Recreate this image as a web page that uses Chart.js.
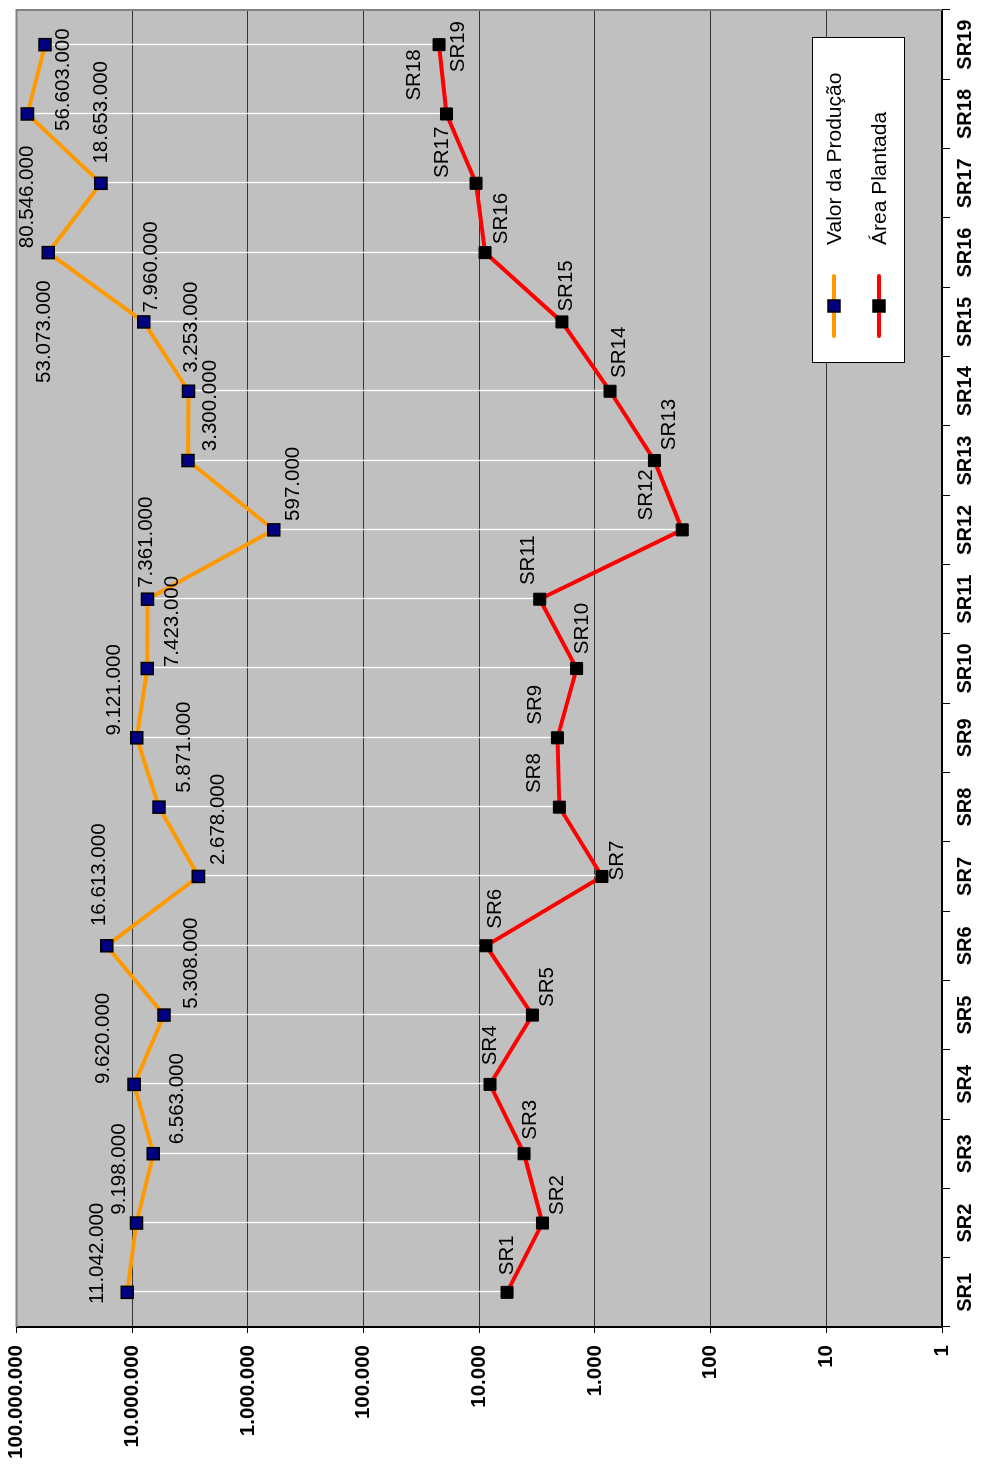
<!DOCTYPE html>
<html lang="pt-BR">
<head>
<meta charset="utf-8">
<title>Valor da Produção e Área Plantada por SR</title>
<script src="https://cdn.jsdelivr.net/npm/chart.js@4.4.1/dist/chart.umd.min.js"></script>
<style>
  html, body { margin: 0; padding: 0; background: #fff; overflow: hidden; }
  body { width: 983px; height: 1465px; position: relative; }
  /* the chart is laid out landscape and turned a quarter turn onto the portrait page */
  #wrap {
    position: absolute; left: 0; top: 0;
    width: 1465px; height: 983px;
    transform-origin: 0 0;
    transform: translate(0, 1465px) rotate(-90deg);
  }
  canvas { display: block; }
</style>
</head>
<body>
<div id="wrap"><canvas id="chart" width="1465" height="983"></canvas></div>
<script>
// ---- data ----
const categories = ['SR1','SR2','SR3','SR4','SR5','SR6','SR7','SR8','SR9','SR10',
                    'SR11','SR12','SR13','SR14','SR15','SR16','SR17','SR18','SR19'];
const valorProducao = [11042000, 9198000, 6563000, 9620000, 5308000, 16613000, 2678000,
                       5871000, 9121000, 7423000, 7361000, 597000, 3300000, 3253000,
                       7960000, 53073000, 18653000, 80546000, 56603000];
const areaPlantada = [5750, 2840, 4100, 8070, 3470, 8740, 870, 2030, 2110, 1440,
                      3000, 176, 306, 740, 1930, 8910, 10660, 19190, 22250];
const valueTicks = [1, 10, 100, 1000, 10000, 100000, 1000000, 10000000, 100000000];
const seriesNames = ['Valor da Produção', 'Área Plantada'];

// ---- label placement (pixel offsets from each marker) ----
const valorLabelOffsets = [[39,-30],[54,-17],[55,24],[46,-31],[52,27],[71,-7],[57,20],
                           [60,25],[48,-22],[47,25],[57,-1],[46,20],[55,22],[64,3],
                           [55,8],[-79,-4],[71,0],[-83,0],[-35,18]];
const areaLabelOffsets = [[37,0],[28,15],[34,6],[39,0],[28,15],[37,9],[16,15],
                          [34,-25],[33,-22],[40,6],[39,-11],[35,-36],[36,15],[39,9],
                          [36,4],[34,16],[31,-34],[39,-32],[-2,19]];

const FONT = '"Liberation Sans", Arial, Helvetica, sans-serif';
const fmt = v => String(Math.round(v)).replace(/\B(?=(\d{3})+(?!\d))/g, '.');

Chart.defaults.font.family = FONT;
Chart.defaults.color = '#000';

// grey plot area, frame and white connectors between the two series
const plotFrame = {
  id: 'plotFrame',
  beforeDraw(chart) {
    const { ctx, chartArea: a } = chart;
    ctx.save();
    ctx.fillStyle = '#C0C0C0';
    ctx.fillRect(a.left, a.top, a.right - a.left, a.bottom - a.top);
    ctx.restore();
  },
  beforeDatasetsDraw(chart) {
    const { ctx, chartArea: a, scales: { x, y } } = chart;
    ctx.save();
    ctx.strokeStyle = '#808080';
    ctx.lineWidth = 2;
    ctx.beginPath();
    ctx.moveTo(a.left, a.top);
    ctx.lineTo(a.right, a.top);
    ctx.lineTo(a.right, a.bottom);
    ctx.stroke();
    ctx.strokeStyle = '#FFFFFF';
    ctx.lineWidth = 1.3;
    categories.forEach((c, i) => {
      const px = Math.round(x.getPixelForValue(i)) + 0.5;
      ctx.beginPath();
      ctx.moveTo(px, y.getPixelForValue(valorProducao[i]));
      ctx.lineTo(px, y.getPixelForValue(areaPlantada[i]));
      ctx.stroke();
    });
    ctx.restore();
  }
};

// value labels on the production series, region names on the area series
const pointLabels = {
  id: 'pointLabels',
  afterDatasetsDraw(chart) {
    const ctx = chart.ctx;
    ctx.save();
    ctx.font = '20.5px ' + FONT;
    ctx.fillStyle = '#000';
    ctx.textAlign = 'center';
    ctx.textBaseline = 'middle';
    chart.getDatasetMeta(0).data.forEach((pt, i) => {
      const [du, dv] = valorLabelOffsets[i];
      ctx.fillText(fmt(valorProducao[i]), pt.x + du, pt.y + dv);
    });
    chart.getDatasetMeta(1).data.forEach((pt, i) => {
      const [du, dv] = areaLabelOffsets[i];
      ctx.fillText(categories[i], pt.x + du, pt.y + dv);
    });
    ctx.restore();
  }
};

// boxed legend inside the plot area
const boxLegend = {
  id: 'boxLegend',
  afterDraw(chart) {
    const ctx = chart.ctx;
    const box = { x: 1102, y: 812, w: 325, h: 92 };
    const rows = [834, 879];
    ctx.save();
    ctx.fillStyle = '#FFFFFF';
    ctx.fillRect(box.x, box.y, box.w, box.h);
    ctx.strokeStyle = '#000';
    ctx.lineWidth = 1;
    ctx.strokeRect(box.x + 0.5, box.y + 0.5, box.w, box.h);
    chart.data.datasets.forEach((ds, i) => {
      const cy = rows[i];
      ctx.strokeStyle = ds.borderColor;
      ctx.lineWidth = 4;
      ctx.lineCap = 'round';
      ctx.beginPath();
      ctx.moveTo(1129, cy);
      ctx.lineTo(1189, cy);
      ctx.stroke();
      ctx.fillStyle = ds.pointBackgroundColor;
      ctx.fillRect(1153, cy - 6, 12, 12);
      ctx.strokeStyle = '#000';
      ctx.lineWidth = 1.5;
      ctx.strokeRect(1153, cy - 6, 12, 12);
      ctx.fillStyle = '#000';
      ctx.font = '21px ' + FONT;
      ctx.textAlign = 'left';
      ctx.textBaseline = 'middle';
      ctx.fillText(ds.label, 1220, cy + 1);
    });
    ctx.restore();
  }
};

new Chart(document.getElementById('chart'), {
  type: 'line',
  data: {
    labels: categories,
    datasets: [
      {
        label: seriesNames[0],
        data: valorProducao,
        borderColor: '#FF9900',
        borderWidth: 4,
        pointStyle: 'rect',
        pointRadius: 8.5,
        pointBackgroundColor: '#000080',
        pointBorderColor: '#000000',
        pointBorderWidth: 1.5,
        tension: 0,
        fill: false
      },
      {
        label: seriesNames[1],
        data: areaPlantada,
        borderColor: '#FF0000',
        borderWidth: 4,
        pointStyle: 'rect',
        pointRadius: 8.5,
        pointBackgroundColor: '#000000',
        pointBorderColor: '#000000',
        pointBorderWidth: 1,
        tension: 0,
        fill: false
      }
    ]
  },
  options: {
    responsive: false,
    devicePixelRatio: 1,
    animation: false,
    events: [],
    layout: { padding: { left: 0, right: 8.3, top: 16.5, bottom: 0 } },
    plugins: { legend: { display: false }, tooltip: { enabled: false } },
    scales: {
      x: {
        type: 'category',
        offset: true,
        grid: { offset: true, drawOnChartArea: false, drawTicks: true, tickLength: 8, color: '#000', lineWidth: 1 },
        border: { display: true, color: '#000', width: 2 },
        ticks: { color: '#000', font: { size: 20, weight: 'bold' }, padding: 3, maxRotation: 0, autoSkip: false },
        afterFit(s) { s.height = 41; s.paddingLeft = 0; s.paddingRight = 0; }
      },
      y: {
        type: 'logarithmic',
        min: 1,
        max: 100000000,
        afterBuildTicks(s) { s.ticks = valueTicks.map(v => ({ value: v })); },
        grid: {
          color: c => (c.tick && c.tick.value === 100000000) ? 'rgba(0,0,0,0)' : '#333',
          tickColor: '#000',
          tickLength: 6,
          lineWidth: 1
        },
        border: { display: true, color: '#000', width: 2 },
        ticks: { color: '#000', font: { size: 20.5, weight: 'bold' }, padding: 12, callback: v => fmt(v) },
        afterFit(s) { s.width = 138; s.paddingTop = 0; s.paddingBottom = 0; }
      }
    }
  },
  plugins: [plotFrame, pointLabels, boxLegend]
});
</script>
</body>
</html>
